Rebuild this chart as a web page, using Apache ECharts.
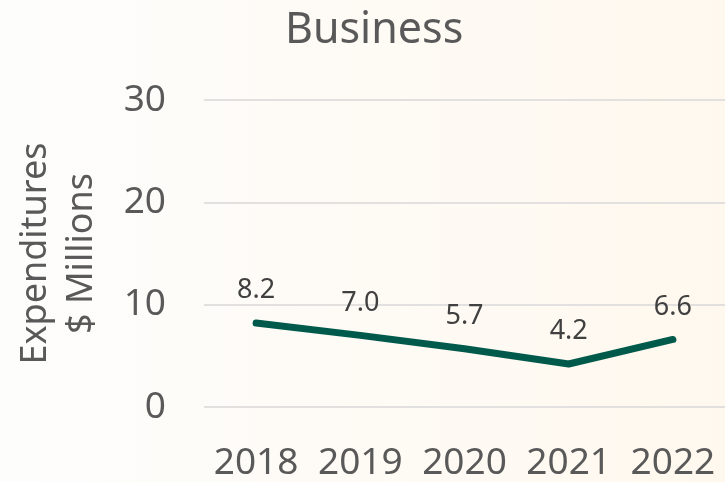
<!DOCTYPE html>
<html>
<head>
<meta charset="utf-8">
<script src="https://cdn.jsdelivr.net/npm/echarts@6/dist/echarts.min.js"></script>
<style>
  html, body { margin: 0; padding: 0; }
  #chart { width: 725px; height: 482px; }
</style>
</head>
<body>
<div id="chart"></div>
<script>
const years = ['2018', '2019', '2020', '2021', '2022']
const expenditures = [8.2, 7.0, 5.7, 4.2, 6.6]
const yTicks = { min: 0, max: 30, interval: 10 }

const myChart = echarts.init(document.getElementById('chart'))

const option = {
  backgroundColor: {
    type: 'linear', x: 0, y: 0, x2: 1, y2: 0,
    colorStops: [
      { offset: 0, color: '#fdfdfc' },
      { offset: 1, color: '#fff8ee' }
    ]
  },
  textStyle: { fontFamily: 'Noto Sans' },
  title: {
    text: 'Business',
    left: 280,
    top: 4,
    textStyle: { fontSize: 43, fontWeight: 'normal', color: '#595959', fontFamily: 'Noto Sans' }
  },
  grid: { left: 204, right: -4, top: 100, bottom: 74 },
  xAxis: {
    type: 'category',
    data: years,
    axisLine: { show: false },
    axisTick: { show: false },
    axisLabel: { fontSize: 37, color: '#595959', margin: 38, interval: 0 }
  },
  yAxis: {
    type: 'value',
    min: yTicks.min,
    max: yTicks.max,
    interval: yTicks.interval,
    name: 'Expenditures\n$ Millions',
    nameLocation: 'middle',
    nameRotate: 90,
    nameGap: 99,
    nameTextStyle: { fontSize: 36, color: '#595959', lineHeight: 46 },
    axisLine: { show: false },
    axisTick: { show: false },
    axisLabel: { fontSize: 37, color: '#595959', margin: 38 },
    splitLine: { lineStyle: { color: '#d9d9d9', width: 1.5 } }
  },
  series: [{
    type: 'line',
    data: expenditures,
    symbol: 'circle',
    symbolSize: 2,
    showSymbol: true,
    itemStyle: { color: 'rgba(0,0,0,0)' },
    lineStyle: { color: '#005a4b', width: 7, cap: 'round', join: 'round' },
    label: {
      show: true,
      position: 'top',
      distance: 18,
      fontSize: 27,
      color: '#404040',
      formatter: p => p.value.toFixed(1)
    }
  }]
}

myChart.setOption(option)
</script>
</body>
</html>
